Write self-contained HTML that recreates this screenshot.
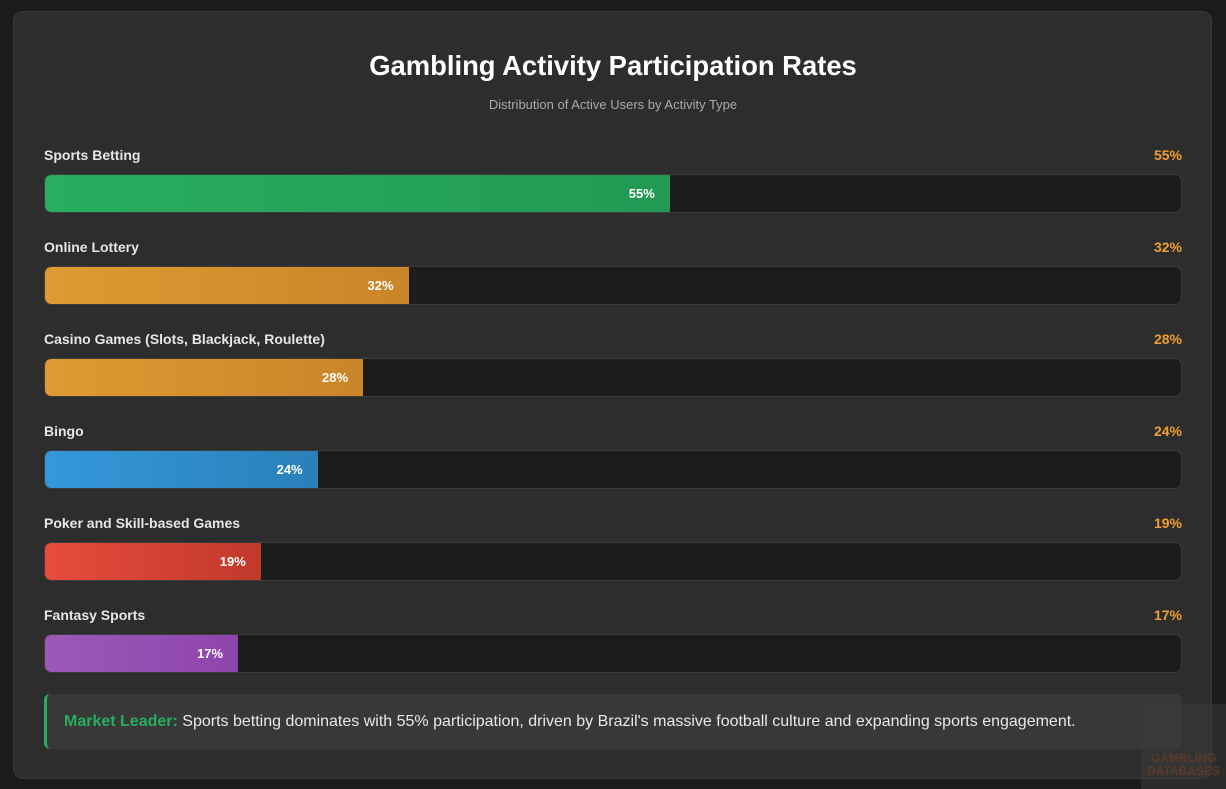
<!DOCTYPE html>
<html><head><meta charset="utf-8"><style>
*{margin:0;padding:0;box-sizing:border-box}
body{width:1226px;height:789px;background:#1b1b1b;font-family:"Liberation Sans","DejaVu Sans",sans-serif;position:relative;overflow:hidden}
.card{position:absolute;left:13px;top:11px;width:1199px;height:768px;background:#2d2d2d;border:1px solid #3a3a3a;border-radius:10px}
h1{position:absolute;left:0;top:50px;width:1226px;text-align:center;color:#fff;font-size:27.4px;font-weight:bold}
.sub{position:absolute;left:0;top:97px;width:1226px;text-align:center;color:#aaa;font-size:13px}
.lab{position:absolute;left:44px;color:#e6e6e6;font-size:14px;font-weight:bold}
.val{position:absolute;right:44px;color:#f0a030;font-size:14px;font-weight:bold}
.track{position:absolute;left:44px;width:1138px;height:39px;background:#1c1c1c;border:1px solid #3c3c3c;border-radius:7px;overflow:hidden}
.fill{height:100%;border-radius:6px 0 0 6px;color:#fff;font-size:13px;font-weight:bold;text-align:right;padding-right:15px;line-height:37px}
.ins{position:absolute;left:44px;top:694px;width:1138px;height:55px;background:#383838;border-left:3px solid #27ae60;border-radius:6px;color:#e8e8e8;font-size:16px;line-height:55px;padding-left:17px}
.ins b{color:#27ae60}
.wm{position:absolute;left:1141px;top:704px;width:85px;height:85px;background:rgba(60,60,60,.5);color:#5a3a28;font-size:12px;font-weight:bold;text-align:center;padding-top:48px;line-height:13px}
</style></head><body>
<div class="card"></div>
<h1>Gambling Activity Participation Rates</h1>
<div class="sub">Distribution of Active Users by Activity Type</div>

<div class="lab" style="top:147px">Sports Betting</div><div class="val" style="top:147px">55%</div>
<div class="track" style="top:174px"><div class="fill" style="width:55%;background:linear-gradient(90deg,#27ae60,#229954)">55%</div></div>

<div class="lab" style="top:239px">Online Lottery</div><div class="val" style="top:239px">32%</div>
<div class="track" style="top:266px"><div class="fill" style="width:32%;background:linear-gradient(90deg,#e09a33,#c98528)">32%</div></div>

<div class="lab" style="top:331px">Casino Games (Slots, Blackjack, Roulette)</div><div class="val" style="top:331px">28%</div>
<div class="track" style="top:358px"><div class="fill" style="width:28%;background:linear-gradient(90deg,#e09a33,#c98528)">28%</div></div>

<div class="lab" style="top:423px">Bingo</div><div class="val" style="top:423px">24%</div>
<div class="track" style="top:450px"><div class="fill" style="width:24%;background:linear-gradient(90deg,#3498db,#2a80b9)">24%</div></div>

<div class="lab" style="top:515px">Poker and Skill-based Games</div><div class="val" style="top:515px">19%</div>
<div class="track" style="top:542px"><div class="fill" style="width:19%;background:linear-gradient(90deg,#e74c3c,#c0392b)">19%</div></div>

<div class="lab" style="top:607px">Fantasy Sports</div><div class="val" style="top:607px">17%</div>
<div class="track" style="top:634px"><div class="fill" style="width:17%;background:linear-gradient(90deg,#9b59b6,#8e44ad)">17%</div></div>

<div class="ins"><b>Market Leader:</b> Sports betting dominates with 55% participation, driven by Brazil's massive football culture and expanding sports engagement.</div>
<div class="wm">GAMBLING<br>DATABASES</div>
</body></html>
